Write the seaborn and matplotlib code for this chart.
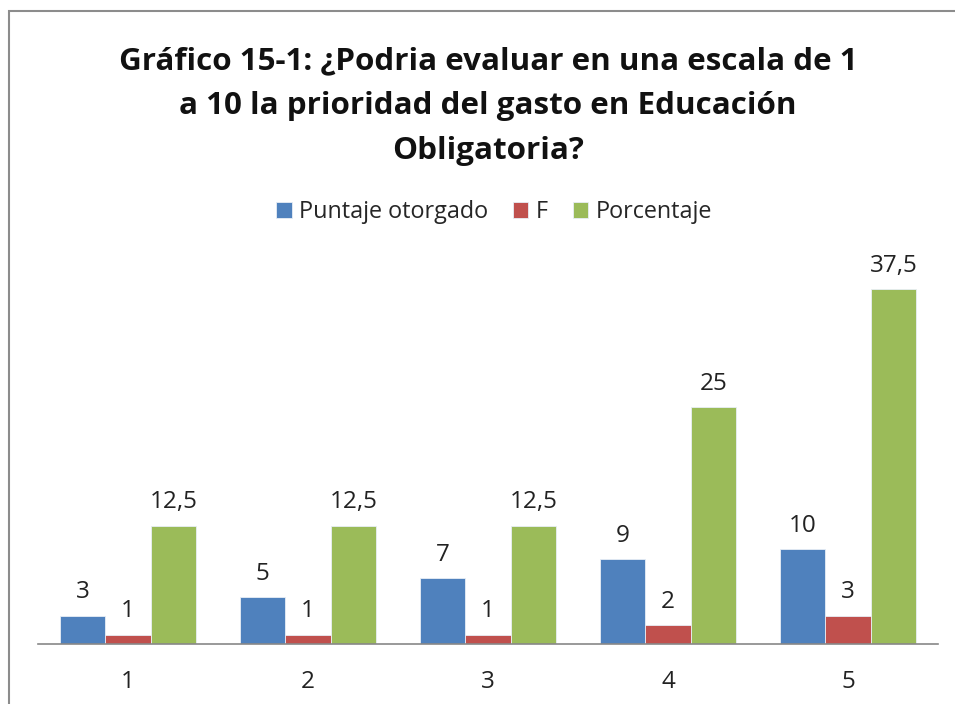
import pandas as pd
import seaborn as sns
import matplotlib.pyplot as plt
from matplotlib.patches import Rectangle

# Chart values
categories = ['1', '2', '3', '4', '5']
puntaje = [3, 5, 7, 9, 10]
frecuencia = [1, 1, 1, 2, 3]
porcentaje = [12.5, 12.5, 12.5, 25, 37.5]
series_names = ['Puntaje otorgado', 'F', 'Porcentaje']
colors = ['#4F81BD', '#C0504D', '#9BBB59']

df = pd.DataFrame({
    'cat': categories * 3,
    'serie': [s for s in series_names for _ in categories],
    'valor': puntaje + frecuencia + porcentaje,
})

sns.set_theme(style='white')
plt.rcParams['font.family'] = ['Open Sans', 'DejaVu Sans']

fig = plt.figure(figsize=(9.55, 7.04), dpi=100)
ax = fig.add_axes([38 / 955, 60 / 704, 900 / 955, 379 / 704])

sns.barplot(data=df, x='cat', y='valor', hue='serie', palette=colors,
            width=0.76, gap=0, edgecolor='#e8eef6', linewidth=0.6,
            saturation=1, ax=ax)

def fmt(v):
    return ('%g' % v).replace('.', ',')

for cont in ax.containers:
    ax.bar_label(cont, labels=[fmt(b.get_height()) for b in cont],
                 padding=8, fontsize=17.5, color='#222222')

ax.set_ylim(0, 40)
ax.set_xlim(-0.5, 4.5)
ax.set_yticks([])
ax.set_xlabel('')
ax.set_ylabel('')
for side in ['top', 'right', 'left']:
    ax.spines[side].set_visible(False)
ax.spines['bottom'].set_color('#888888')
ax.spines['bottom'].set_linewidth(1.2)
ax.tick_params(axis='x', length=0, pad=19, labelsize=17.5, labelcolor='#222222')

ax.legend(loc='center', bbox_to_anchor=(494 / 955, 1 - 212 / 704),
          bbox_transform=fig.transFigure, ncol=3, frameon=False,
          fontsize=16.8, handlelength=0.65, handleheight=0.65,
          handletextpad=0.3, columnspacing=1.1)

fig.text(488 / 955, 1 - 106 / 704,
         'Gráfico 15-1: ¿Podria evaluar en una escala de 1\n'
         'a 10 la prioridad del gasto en Educación\nObligatoria?',
         ha='center', va='center', fontsize=22.6, fontweight='bold',
         linespacing=1.65, color='#111111')

# outer chart border (only top and left edges visible in the crop)
fig.patches.append(Rectangle((9 / 955, -0.1), 1.2, 1 - 11 / 704 + 0.1,
                             transform=fig.transFigure, fill=False,
                             edgecolor='#8c8c8c', linewidth=1.5))

fig.savefig('out.png', dpi=100)
